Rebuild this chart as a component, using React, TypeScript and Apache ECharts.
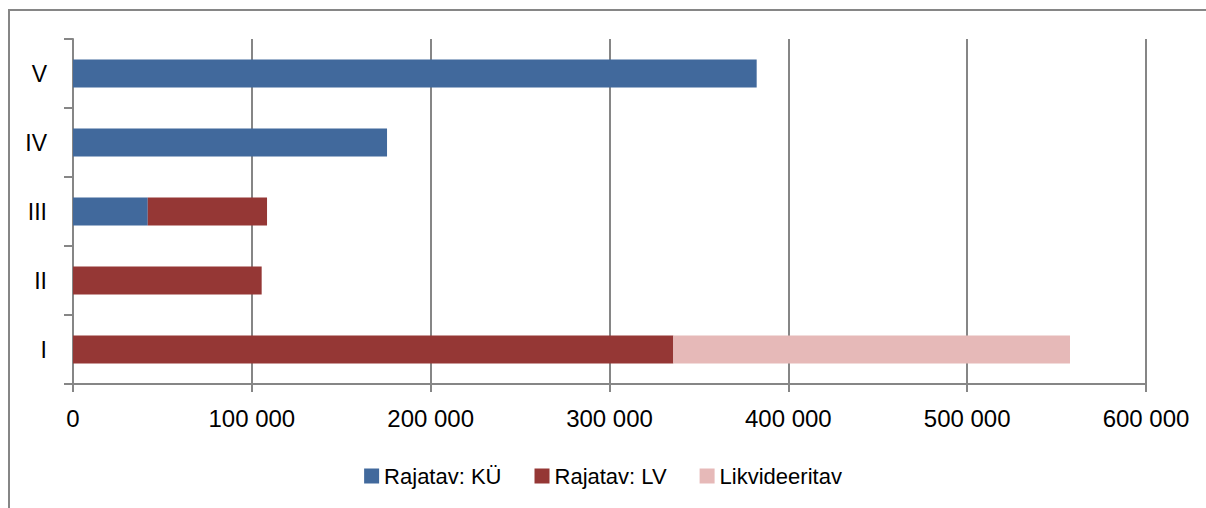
import React, { useEffect, useRef } from "react";
import * as echarts from "echarts";

const categories = ["I", "II", "III", "IV", "V"];
const seriesNames = ["Rajatav: KÜ", "Rajatav: LV", "Likvideeritav"];
const kuValues = [0, 0, 41800, 175600, 382300];
const lvValues = [335700, 105500, 66700, 0, 0];
const likvValues = [221800, 0, 0, 0, 0];
const colors = ["#41699C", "#953735", "#E6B9B8"];
const xTicks = { min: 0, max: 600000, interval: 100000 };

const FONT = "Liberation Sans";
const GRAY = "#868686";

function fmt(v: number): string {
  return String(Math.round(v)).replace(/\B(?=(\d{3})+(?!\d))/g, " ");
}

export default function App() {
  const ref = useRef<HTMLDivElement>(null);
  useEffect(() => {
    if (!ref.current) return;
    const chart = echarts.init(ref.current, undefined, { renderer: "svg" });
    const data = [kuValues, lvValues, likvValues];
    chart.setOption({
      animation: false,
      backgroundColor: "#ffffff",
      textStyle: { fontFamily: FONT },
      graphic: [
        {
          type: "rect",
          shape: { x: 9, y: 10, width: 1400, height: 700 },
          style: { fill: "none", stroke: GRAY, lineWidth: 2 },
          silent: true,
          z: 100,
        },
      ],
      grid: { left: 73, right: 60, top: 39, bottom: 124 },
      legend: {
        data: seriesNames,
        left: "center",
        top: 460,
        itemWidth: 15,
        itemHeight: 15,
        itemGap: 33,
        icon: "rect",
        textStyle: { fontFamily: FONT, fontSize: 22, color: "#000" },
      },
      xAxis: {
        type: "value",
        min: xTicks.min,
        max: xTicks.max,
        interval: xTicks.interval,
        axisLine: { show: true, lineStyle: { color: GRAY, width: 2 } },
        axisTick: { show: true, length: 8, lineStyle: { color: GRAY, width: 2 } },
        splitLine: { show: true, lineStyle: { color: GRAY, width: 2 } },
        axisLabel: {
          fontFamily: FONT,
          fontSize: 24,
          color: "#000",
          margin: 22,
          formatter: (v: number) => fmt(v),
        },
      },
      yAxis: {
        type: "category",
        data: categories,
        axisLine: { show: true, lineStyle: { color: GRAY, width: 2 } },
        axisTick: { show: true, length: 9, lineStyle: { color: GRAY, width: 2 } },
        axisLabel: { fontFamily: FONT, fontSize: 23, color: "#000", margin: 26 },
      },
      series: seriesNames.map((name, i) => ({
        name,
        type: "bar",
        stack: "total",
        barWidth: 28,
        data: data[i],
        itemStyle: { color: colors[i] },
      })),
    });
    return () => chart.dispose();
  }, []);
  return (
    <div
      ref={ref}
      style={{ position: "fixed", left: 0, top: 0, width: 1206, height: 508 }}
    />
  );
}
